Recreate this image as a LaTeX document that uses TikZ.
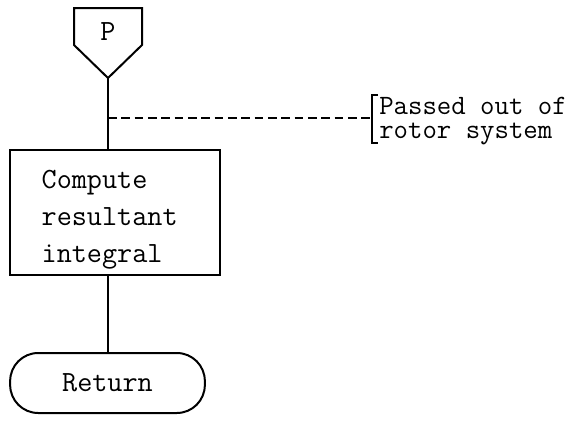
\documentclass[tikz,border=0pt]{standalone}
\usepackage{tikz}
\usetikzlibrary{calc, positioning}

\begin{document}
\begin{tikzpicture}[
  x=0.75pt, y=-0.75pt,
  every node/.style={font=\ttfamily\fontsize{22}{27.5}\selectfont},
  flow/.style={line width=1.5pt},
  procbox/.style={draw, line width=1.5pt, minimum width=157.5pt, minimum height=93.75pt,
    align=left, text width=110pt, inner xsep=0pt, text height=24.7pt, text depth=60pt},
  term/.style={draw, line width=1.5pt, rounded corners=21pt, minimum width=146pt,
    minimum height=45pt},
  notetext/.style={font=\ttfamily\fontsize{21}{18.5}\selectfont, align=left, inner sep=0pt}
]
\useasboundingbox (0,0) rectangle (569,422);

% off-page connector
\draw[flow] (74,8) -- (142,8) -- (142,45) -- (108,78) -- (74,45) -- cycle;
\node (conn) at (108,32) {P};
\coordinate (tip) at (108,78);

\node[procbox] (calc) at (115,212.5) {Compute\\resultant\\integral};
\node[term] (ret) at (107.5,383) {Return};

\draw[flow] (tip) -- (calc.north -| tip);
\draw[flow] (calc.south -| tip) -- (ret.north -| tip);

% annotation
\coordinate (jn) at (108,118);
\node[notetext, anchor=west] (note) at (379,121) {Passed out of\\rotor system};
\coordinate (brk) at (372,118);
\draw[line width=1pt, dash pattern=on 6.5pt off 3.5pt] (jn) -- (brk);
\draw[line width=1pt] (378,95) -- (372,95) -- (372,143) -- (378,143);
\end{tikzpicture}
\end{document}
